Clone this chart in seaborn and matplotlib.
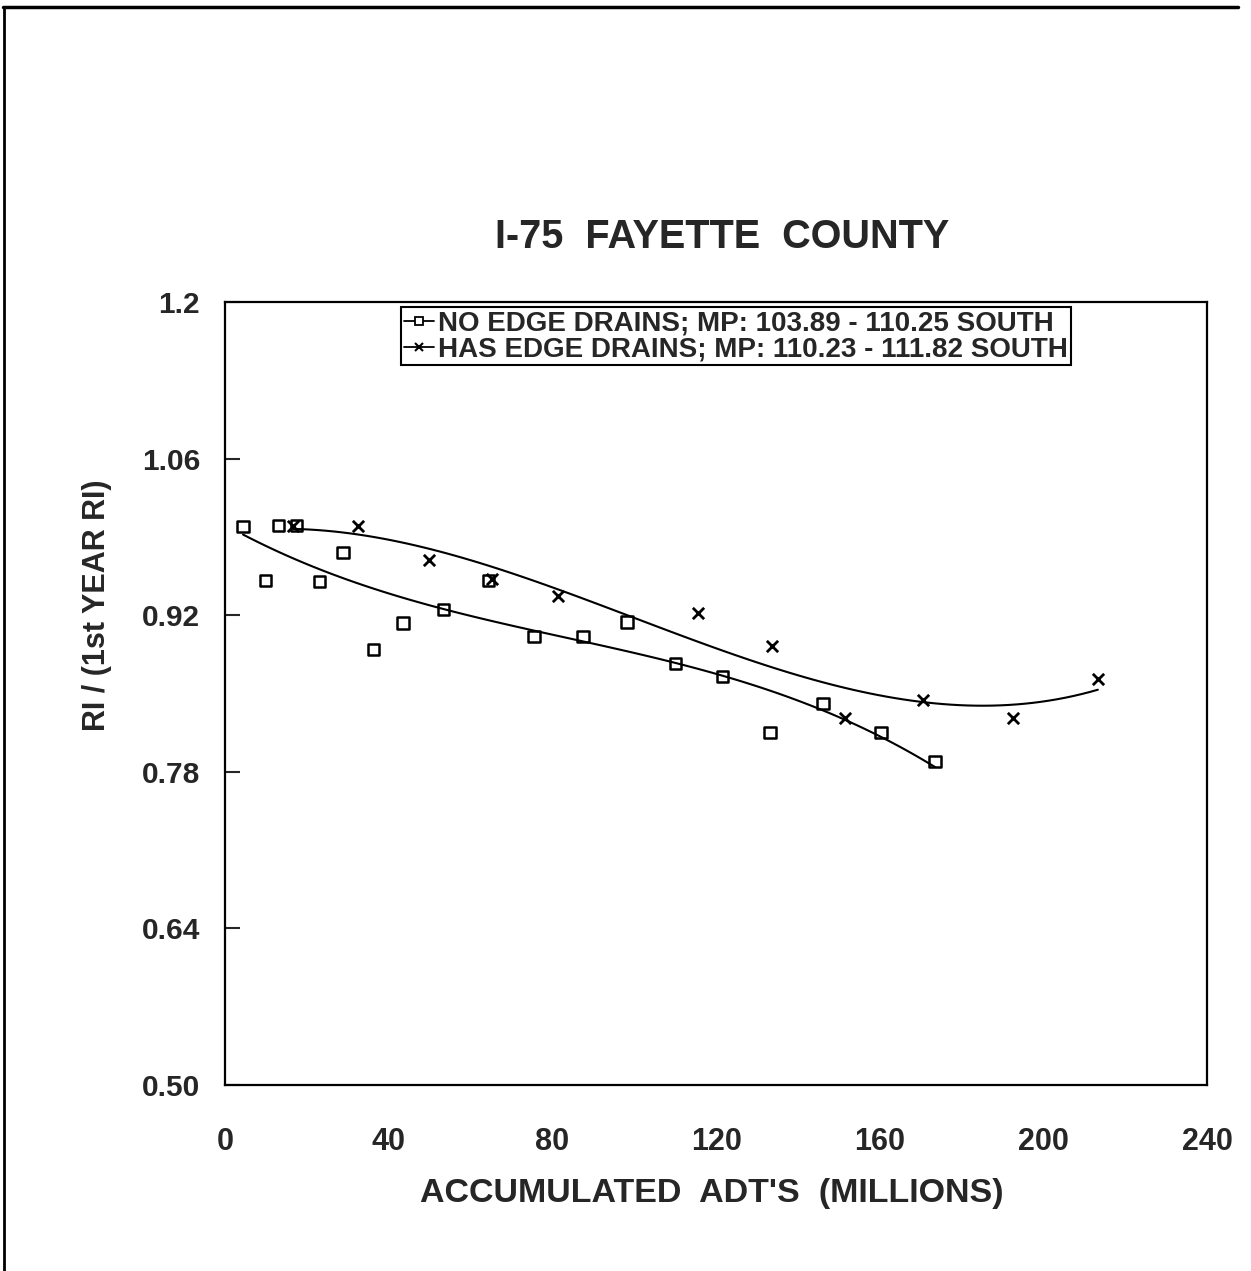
import numpy as np
import pandas as pd
import matplotlib
matplotlib.use("Agg")
import matplotlib.pyplot as plt
from matplotlib.lines import Line2D
import seaborn as sns

# Ride index ratio vs. accumulated traffic, I-75 Fayette County
no_drain_adt = [4.4, 9.8, 13.0, 17.4, 23.0, 28.8, 36.2, 43.5, 53.3, 64.3,
                75.5, 87.5, 98.2, 110.0, 121.5, 133.2, 146.1, 160.3, 173.5]
no_drain_ri = [0.999, 0.951, 1.000, 1.000, 0.950, 0.976, 0.889, 0.913, 0.925, 0.951,
               0.901, 0.901, 0.914, 0.877, 0.865, 0.815, 0.841, 0.815, 0.789]

drain_adt = [16.6, 32.5, 49.9, 65.2, 81.4, 115.6, 133.7, 151.5, 170.6, 192.6, 213.3]
drain_ri = [1.000, 1.000, 0.969, 0.952, 0.937, 0.922, 0.892, 0.828, 0.844, 0.828, 0.863]

series_labels = ["NO EDGE DRAINS; MP: 103.89 - 110.25 SOUTH",
                 "HAS EDGE DRAINS; MP: 110.23 - 111.82 SOUTH"]
x_ticks = [0, 40, 80, 120, 160, 200, 240]
y_ticks = [1.2, 1.06, 0.92, 0.78, 0.64, 0.50]
y_tick_labels = ["1.2", "1.06", "0.92", "0.78", "0.64", "0.50"]

no_drain = pd.DataFrame({"adt": no_drain_adt, "ri": no_drain_ri})
drain = pd.DataFrame({"adt": drain_adt, "ri": drain_ri})

sns.set_style("white")
plt.rcParams["font.family"] = ["Liberation Sans", "DejaVu Sans"]
plt.rcParams["font.weight"] = "bold"

fig = plt.figure(figsize=(12.51, 12.71), dpi=100)
ax = fig.add_axes([0.1799, 0.1464, 0.785, 0.616])

# cubic trend lines through each series
sns.regplot(data=no_drain, x="adt", y="ri", order=3, ci=None, ax=ax, marker="s",
            color="black",
            scatter_kws=dict(s=66, facecolors="none", edgecolors="black",
                             linewidths=1.8, alpha=1, zorder=3),
            line_kws=dict(lw=1.5, color="black"))
sns.regplot(data=drain, x="adt", y="ri", order=3, ci=None, ax=ax, marker="x",
            color="black",
            scatter_kws=dict(s=66, linewidths=2.0, alpha=1, zorder=3),
            line_kws=dict(lw=1.5, color="black"))

ax.set_xlim(0, 240)
ax.set_ylim(0.5, 1.2)
ax.set_xticks(x_ticks)
ax.set_xticklabels([str(t) for t in x_ticks])
ax.set_yticks(y_ticks)
ax.set_yticklabels(y_tick_labels)
ax.tick_params(axis="x", length=0, pad=30, labelsize=22)
ax.tick_params(axis="y", direction="in", length=11, width=1.5, pad=18,
               labelsize=21.5, left=True)
for lab in ax.get_xticklabels() + ax.get_yticklabels():
    lab.set_fontweight("bold")

for sp in ax.spines.values():
    sp.set_visible(True)
    sp.set_color("black")
    sp.set_linewidth(1.6)

ax.set_xlabel("ACCUMULATED  ADT'S  (MILLIONS)", fontsize=24.5, fontweight="bold")
ax.set_ylabel("RI / (1st YEAR RI)", fontsize=22, fontweight="bold")
ax.xaxis.set_label_coords(0.496, -0.119)
ax.yaxis.set_label_coords(-0.115, 0.613)

fig.text(0.5775, 0.8135, "I-75  FAYETTE  COUNTY", ha="center", va="center",
         fontsize=28.5, fontweight="bold")

handles = [
    Line2D([], [], color="black", lw=1.3, marker="s", ms=6, mfc="white", mew=1.3),
    Line2D([], [], color="black", lw=1.3, marker="x", ms=6, mew=1.5),
]
leg = ax.legend(handles, series_labels, loc="upper left",
                bbox_to_anchor=(0.179, 0.993), borderaxespad=0,
                frameon=True, fancybox=False, framealpha=1, edgecolor="black",
                prop=dict(size=20, weight="bold"), handlelength=1.1,
                handletextpad=0.15, labelspacing=0.0, borderpad=0.1)
leg.get_frame().set_linewidth(1.5)

# page border along the top and left edges
fig.add_artist(Line2D([0.002, 0.99], [0.9945, 0.9945], color="black", lw=2.5,
                      transform=fig.transFigure))
fig.add_artist(Line2D([0.003, 0.003], [0.0, 0.9945], color="black", lw=2,
                      transform=fig.transFigure))

fig.savefig("out.png", dpi=100, facecolor="white")
